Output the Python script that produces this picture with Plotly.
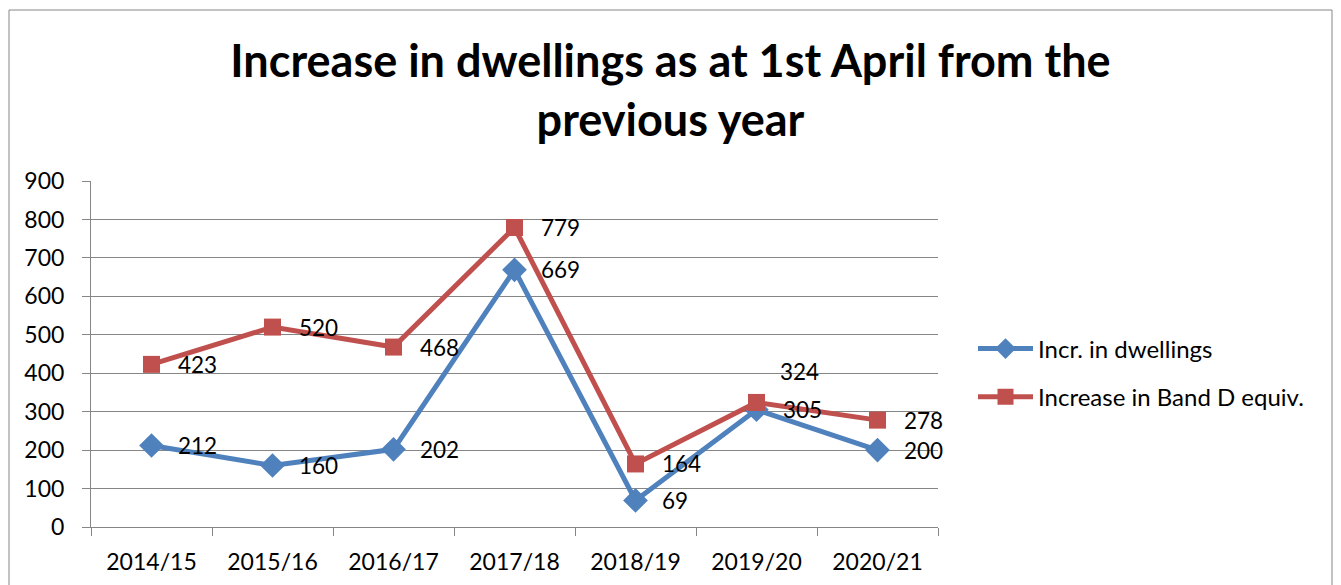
import plotly.graph_objects as go

# Years and annual increases
years = ["2014/15", "2015/16", "2016/17", "2017/18", "2018/19", "2019/20", "2020/21"]
dwellings = [212, 160, 202, 669, 69, 305, 200]
band_d = [423, 520, 468, 779, 164, 324, 278]

# Vertical offset (px) for each label of the Band D series
band_d_label_lift = [0, 0, 0, 0, 0, 31, 0]

BLUE = "#4F81BD"
RED = "#C0504D"
GRID = "#868686"
FONT = "Lato"

W, H = 1341, 585
L, R, T, B = 91, 403, 181, 58
pw, ph = W - L - R, H - T - B

fig = go.Figure()
fig.add_trace(go.Scatter(
    x=years, y=dwellings, name="Incr. in dwellings", mode="lines+markers",
    legendgroup="a",
    line=dict(color=BLUE, width=5),
    marker=dict(symbol="diamond", size=19, color=BLUE),
))
fig.add_trace(go.Scatter(
    x=years, y=band_d, name="Increase in Band D equiv.", mode="lines+markers",
    legendgroup="b",
    line=dict(color=RED, width=5),
    marker=dict(symbol="square", size=17, color=RED),
))

LABEL_FONT = dict(family=FONT, size=22.5, color="black")
annotations = []
for x, v in zip(years, dwellings):
    annotations.append(dict(x=x, y=v, text=str(v), xanchor="left", yanchor="middle",
                            xshift=24, showarrow=False, font=LABEL_FONT))
for x, v, lift in zip(years, band_d, band_d_label_lift):
    annotations.append(dict(x=x, y=v, text=str(v), xanchor="left", yanchor="middle",
                            xshift=24 if lift == 0 else 21, yshift=lift, showarrow=False,
                            font=LABEL_FONT))

# outer chart frame
x0 = (9 - L) / pw
x1 = (1332 - L) / pw
y1 = (H - B - 10) / ph
y0 = (H - B - 600) / ph

fig.update_layout(
    width=W, height=H,
    margin=dict(l=L, r=R, t=T, b=B, autoexpand=False),
    paper_bgcolor="white", plot_bgcolor="white",
    title=dict(text="Increase in dwellings as at 1st April from the<br>previous year",
               x=0.5, xanchor="center", y=1 - 77 / H, yanchor="middle",
               font=dict(family=FONT, size=45, color="black", weight="bold")),
    font=dict(family=FONT, size=22, color="black"),
    showlegend=True,
    legend=dict(x=(973 - L) / pw, y=(H - B - 373) / ph, xanchor="left", yanchor="middle",
                font=dict(family=FONT, size=24, color="black"),
                traceorder="grouped", tracegroupgap=14, itemwidth=55,
                bgcolor="rgba(0,0,0,0)"),
    annotations=annotations,
    shapes=[dict(type="rect", xref="paper", yref="paper", x0=x0, x1=x1, y0=y0, y1=y1,
                 line=dict(color=GRID, width=1), layer="below")],
)
fig.update_xaxes(
    type="category", range=[-0.5, 6.5], showgrid=False,
    showline=True, linecolor=GRID, linewidth=1,
    ticks="outside", tickson="boundaries", ticklen=8, tickcolor=GRID,
    tickfont=dict(family=FONT, size=23, color="black"),
    ticklabelstandoff=14,
)
fig.update_yaxes(
    range=[0, 900], dtick=100, showgrid=True, gridcolor=GRID, gridwidth=1,
    showline=True, linecolor=GRID, linewidth=1, zeroline=False,
    ticks="outside", ticklen=8, tickcolor=GRID,
    tickfont=dict(family=FONT, size=23, color="black"),
    ticklabelstandoff=13,
)

fig.write_html("out.html")
